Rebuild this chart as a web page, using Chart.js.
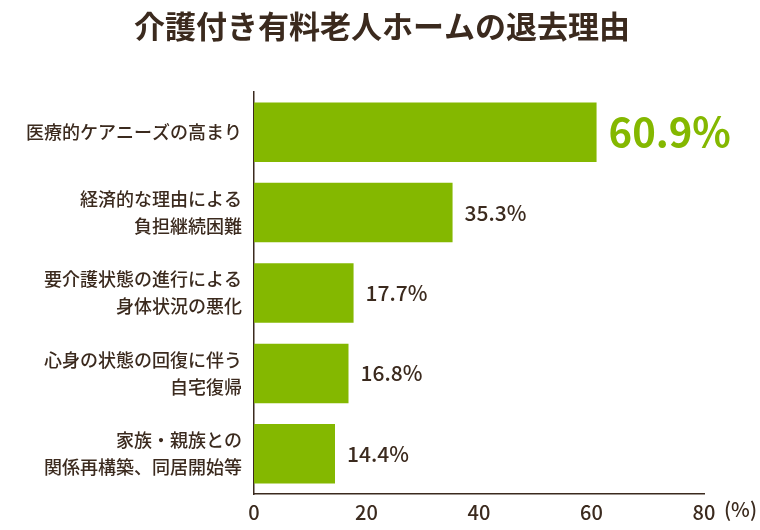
<!DOCTYPE html>
<html><head><meta charset="utf-8">
<script src="https://cdn.jsdelivr.net/npm/chart.js@4/dist/chart.umd.min.js"></script>
<style>body{margin:0;background:#fff}#wrap{width:760px;height:530px}</style>
</head><body><div id="wrap"><canvas id="c"></canvas></div>
<script>
const title = '介護付き有料老人ホームの退去理由';
const categories = [
  ['医療的ケアニーズの高まり'],
  ['経済的な理由による', '負担継続困難'],
  ['要介護状態の進行による', '身体状況の悪化'],
  ['心身の状態の回復に伴う', '自宅復帰'],
  ['家族・親族との', '関係再構築、同居開始等']
];
const values = [60.9, 35.3, 17.7, 16.8, 14.4];
const xTicks = [0, 20, 40, 60, 80];

const ink = '#3b2a1e';
const green = '#84b800';
const font = '"Noto Sans CJK JP", "Noto Sans", sans-serif';

const extras = {
  id: 'extras',
  afterDraw(chart) {
    const ctx = chart.ctx, x = chart.scales.x, y = chart.scales.y;
    ctx.save();
    ctx.fillStyle = ink;
    ctx.font = 'bold 31px ' + font;
    ctx.textAlign = 'center'; ctx.textBaseline = 'middle';
    ctx.fillText(title, 382, 26);
    // category labels
    ctx.font = '500 18px ' + font;
    ctx.textAlign = 'right';
    categories.forEach((lines, i) => {
      const cy = y.getPixelForValue(i);
      const n = lines.length;
      lines.forEach((t, j) => ctx.fillText(t, 242, cy + (j - (n - 1) / 2) * 27));
    });
    // value labels
    const meta = chart.getDatasetMeta(0);
    values.forEach((v, i) => {
      const bar = meta.data[i];
      if (i === 0) {
        ctx.fillStyle = green; ctx.font = 'bold 40px ' + font;
      } else {
        ctx.fillStyle = ink; ctx.font = '500 21px ' + font;
      }
      ctx.textAlign = 'left';
      ctx.fillText(v.toFixed(1) + '%', bar.x + 12, bar.y);
    });
    ctx.fillStyle = ink; ctx.font = '500 20px ' + font;
    ctx.textAlign = 'left';
    ctx.fillText('(%)', x.getPixelForValue(80) + 20, 509);
    ctx.restore();
  }
};

new Chart(document.getElementById('c'), {
  type: 'bar',
  data: { labels: categories, datasets: [{ data: values, backgroundColor: green, barPercentage: 0.74, categoryPercentage: 1 }] },
  options: {
    indexAxis: 'y', responsive: true, maintainAspectRatio: false, animation: false,
    layout: { padding: { top: 92, right: 56, bottom: 0, left: 0 } },
    plugins: { legend: { display: false }, tooltip: { enabled: false } },
    scales: {
      x: {
        min: 0, max: 80,
        afterBuildTicks: s => { s.ticks = xTicks.map(v => ({ value: v })); },
        grid: { display: false, drawTicks: false },
        border: { color: ink, width: 1.5 },
        ticks: { color: ink, font: { size: 20, family: font, weight: 500 }, padding: 6 }
      },
      y: {
        afterFit: s => { s.width = 254; },
        grid: { display: false, drawTicks: false },
        border: { color: ink, width: 1.5 },
        ticks: { display: false }
      }
    }
  },
  plugins: [extras]
});
</script></body></html>
